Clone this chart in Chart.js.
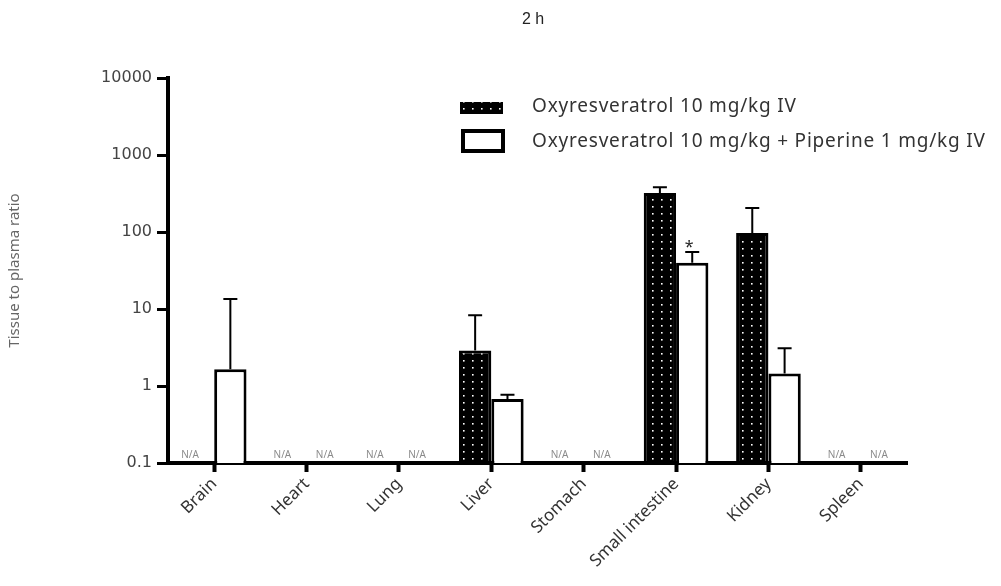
<!DOCTYPE html>
<html>
<head>
<meta charset="utf-8">
<script src="https://cdn.jsdelivr.net/npm/chart.js@4.4.1/dist/chart.umd.min.js"></script>
<style>
    html, body { margin: 0; padding: 0; background: #fff; }
    #wrap { width: 1001px; height: 586px; }
</style>
</head>
<body>
<div id="wrap"><canvas id="chart"></canvas></div>
<script>
const tissues = ['Brain', 'Heart', 'Lung', 'Liver', 'Stomach', 'Small intestine', 'Kidney', 'Spleen'];
const oxyValues = [null, null, null, 2.9, null, 320, 97, null];
const oxyErrTop = [null, null, null, 8.3, null, 380, 205, null];
const pipValues = [1.65, null, null, 0.68, null, 40, 1.45, null];
const pipErrTop = [13.5, null, null, 0.77, null, 55, 3.1, null];
const pipMarks = ['', '', '', '', '', '*', '', ''];
const yTicks = [0.1, 1, 10, 100, 1000, 10000];

const FONT = "'Noto Sans', sans-serif";

// black tile with a single white dot -> dotted bar fill
function dotPattern() {
    const c = document.createElement('canvas');
    c.width = 9; c.height = 7;
    const g = c.getContext('2d');
    g.fillStyle = '#000';
    g.fillRect(0, 0, 9, 7);
    g.fillStyle = '#fff';
    g.fillRect(4, 3, 1.6, 1.6);
    return g.createPattern(c, 'repeat');
}
const dots = dotPattern();

const extras = {
    id: 'extras',
    afterDatasetsDraw(chart) {
        const ctx = chart.ctx;
        const y = chart.scales.y;
        const x = chart.scales.x;
        const area = chart.chartArea;

        chart.data.datasets.forEach((ds, di) => {
            const meta = chart.getDatasetMeta(di);
            ds.data.forEach((v, i) => {
                const bar = meta.data[i];
                let bx = bar && isFinite(bar.x) ? bar.x : x.getPixelForValue(i) + (di === 0 ? -16 : 16);

                if (v == null) {
                    ctx.save();
                    ctx.fillStyle = '#8a8a8a';
                    ctx.font = '10px ' + FONT;
                    ctx.textAlign = 'center';
                    ctx.textBaseline = 'bottom';
                    ctx.fillText('N/A', bx + (di === 0 ? -8 : 2), area.bottom - 3);
                    ctx.restore();
                    return;
                }

                // upper error bar
                const e = ds.errTop[i];
                if (e != null) {
                    const top = y.getPixelForValue(e);
                    ctx.save();
                    ctx.strokeStyle = '#000';
                    ctx.lineWidth = 2;
                    ctx.beginPath();
                    ctx.moveTo(bx, bar.y);
                    ctx.lineTo(bx, top);
                    ctx.moveTo(bx - 7, top);
                    ctx.lineTo(bx + 7, top);
                    ctx.stroke();
                    if (ds.marks && ds.marks[i]) {
                        ctx.fillStyle = '#222';
                        ctx.font = '16px ' + FONT;
                        ctx.textAlign = 'center';
                        ctx.textBaseline = 'bottom';
                        ctx.fillText(ds.marks[i], bx - 3, top + 3);
                    }
                    ctx.restore();
                }
            });
        });

        // title, y title, legend
        ctx.save();
        ctx.fillStyle = '#222';
        ctx.font = "16px 'Liberation Sans Narrow', 'Liberation Sans', sans-serif";
        ctx.textAlign = 'center';
        ctx.textBaseline = 'middle';
        ctx.fillText('2 h', 533, 20);

        ctx.fillStyle = '#666';
        ctx.font = '15px ' + FONT;
        ctx.translate(15, (area.top + area.bottom) / 2);
        ctx.rotate(-Math.PI / 2);
        ctx.fillText('Tissue to plasma ratio', 0, 0);
        ctx.restore();

        ctx.save();
        ctx.fillStyle = dots;
        ctx.fillRect(460, 102, 43, 12);
        ctx.fillStyle = '#fff';
        ctx.strokeStyle = '#000';
        ctx.lineWidth = 4;
        ctx.strokeRect(463, 131, 40, 20);
        ctx.fillStyle = '#333';
        ctx.font = '19px ' + FONT;
        ctx.letterSpacing = '0.8px';
        ctx.textAlign = 'left';
        ctx.textBaseline = 'middle';
        chart.data.datasets.forEach((ds, di) => {
            ctx.fillText(ds.label, 532, di === 0 ? 107 : 142);
        });
        ctx.restore();
    }
};

new Chart(document.getElementById('chart'), {
    type: 'bar',
    data: {
        labels: tissues,
        datasets: [
            {
                label: 'Oxyresveratrol 10 mg/kg IV',
                data: oxyValues,
                errTop: oxyErrTop,
                backgroundColor: dots,
                borderColor: '#000',
                borderWidth: 3,
                borderSkipped: 'start'
            },
            {
                label: 'Oxyresveratrol 10 mg/kg + Piperine 1 mg/kg IV',
                data: pipValues,
                errTop: pipErrTop,
                marks: pipMarks,
                backgroundColor: '#fff',
                borderColor: '#000',
                borderWidth: 3,
                borderSkipped: 'start'
            }
        ]
    },
    options: {
        responsive: true,
        maintainAspectRatio: false,
        animation: false,
        barPercentage: 1,
        categoryPercentage: 0.7,
        layout: { padding: { top: 78, right: 94, bottom: 0, left: 0 } },
        plugins: {
            legend: { display: false },
            tooltip: { enabled: false }
        },
        scales: {
            x: {
                offset: true,
                afterFit: s => { s.height = 123; },
                border: { display: true, color: '#000', width: 4 },
                grid: {
                    display: true, offset: false, drawOnChartArea: false, drawTicks: true,
                    tickLength: 9, tickWidth: 4, color: '#000'
                },
                ticks: {
                    color: '#333', font: { family: FONT, size: 17 },
                    maxRotation: 45, minRotation: 45, padding: 2, autoSkip: false
                }
            },
            y: {
                type: 'logarithmic',
                min: 0.1,
                max: 10000,
                afterFit: s => { s.width = 168; },
                afterBuildTicks: s => { s.ticks = yTicks.map(v => ({ value: v })); },
                border: { display: true, color: '#000', width: 4 },
                grid: {
                    display: true, drawOnChartArea: false, drawTicks: true,
                    tickLength: 11, tickWidth: 3, color: '#000'
                },
                ticks: {
                    color: '#444', font: { family: "'DejaVu Sans', sans-serif", size: 16 },
                    padding: 5,
                    callback: v => String(v)
                }
            }
        }
    },
    plugins: [extras]
});
</script>
</body>
</html>
